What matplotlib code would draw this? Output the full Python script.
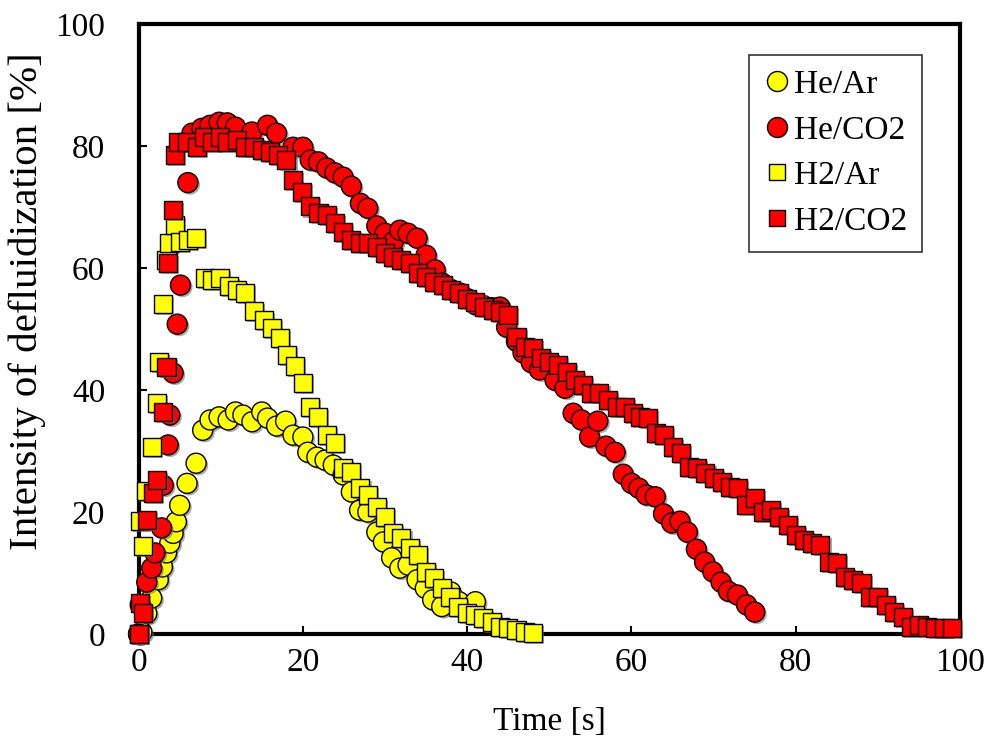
import matplotlib
matplotlib.use('Agg')
import matplotlib.pyplot as plt
import matplotlib.patheffects as pe

plt.rcParams['font.family'] = ['Liberation Serif', 'DejaVu Serif']

# He/Ar (yellow circles)
heAr_t = [0, 0.4, 1.0, 1.6, 2.4, 2.9, 3.4, 3.8, 4.2, 4.6, 5.0, 5.9, 7.0, 7.8, 8.7, 9.8,
          10.9, 11.8, 12.7, 13.8, 15.0, 15.7, 16.8, 17.9, 18.8, 20.0, 20.6, 21.7, 22.7,
          23.7, 24.9, 25.9, 26.9, 27.9, 29.0, 29.8, 30.8, 31.8, 32.8, 33.9, 34.9, 35.8,
          36.9, 38.0, 39.0, 40.0, 41.0]
heAr_v = [0, 0.3, 3.4, 5.9, 8.9, 11.0, 13.3, 14.9, 16.5, 18.4, 21.1, 24.7, 28.0, 33.4,
          35.1, 35.6, 35.1, 36.4, 35.9, 34.8, 36.4, 35.4, 34.1, 34.9, 32.6, 32.3, 29.8,
          29.0, 28.5, 27.7, 26.1, 23.3, 20.3, 20.0, 16.7, 15.1, 12.5, 10.8, 11.3, 8.9,
          7.5, 5.6, 4.5, 6.9, 5.3, 3.5, 5.3]

# He/CO2 (red circles)
heCO2_t = [0, 0.2, 1.0, 1.6, 2.0, 2.8, 3.0, 3.6, 3.8, 4.2, 4.7, 5.1, 6.0, 6.5, 7.7, 8.7,
           9.8, 10.8, 11.8, 13.8, 15.7, 16.8, 18.8, 20.0, 20.9, 21.9, 22.9, 23.9, 24.9,
           25.9, 27.0, 27.9, 29.0, 30.0, 31.0, 31.8, 32.8, 33.9, 35.0, 36.1, 37.0, 38.0,
           39.1, 40.0, 41.0, 41.9, 43.0, 44.0, 44.8, 46.0, 46.8, 47.8, 48.8, 50.7, 51.9,
           52.9, 53.9, 54.9, 55.9, 56.9, 58.0, 59.0, 60.0, 60.9, 61.8, 62.9, 63.9, 64.9,
           65.9, 66.8, 67.9, 68.9, 69.9, 70.9, 71.8, 72.9, 74.0, 75.0]
heCO2_v = [0, 4.8, 8.5, 10.8, 13.3, 17.4, 24.4, 31.0, 35.9, 42.8, 50.8, 57.2, 74.0, 82.1,
           82.9, 83.4, 83.9, 83.8, 83.1, 82.3, 83.4, 82.1, 79.8, 79.8, 77.7, 77.4, 76.4,
           75.6, 74.9, 73.4, 70.6, 69.8, 66.9, 65.7, 64.3, 66.2, 65.7, 64.9, 62.1, 59.7,
           57.5, 56.5, 55.9, 55.0, 54.0, 53.9, 53.5, 53.6, 50.3, 48.0, 46.1, 44.5, 43.3,
           41.6, 40.3, 36.2, 35.1, 32.3, 34.9, 30.8, 29.8, 26.2, 24.7, 23.9, 22.8, 22.5,
           19.7, 18.2, 18.5, 16.7, 13.9, 11.8, 10.2, 8.5, 7.0, 6.4, 4.8, 3.6]

# H2/Ar (yellow squares)
h2Ar_t = [0, 0.2, 0.5, 0.9, 1.6, 2.2, 2.5, 3.0, 3.4, 3.7, 4.4, 5.0, 6.0, 7.0, 8.1, 8.9,
          9.9, 11.0, 12.0, 13.0, 14.0, 15.3, 16.2, 17.2, 18.1, 19.0, 20.0, 20.9, 21.8,
          22.9, 23.9, 24.9, 25.9, 27.0, 27.9, 29.0, 30.0, 31.0, 32.0, 33.0, 34.0, 35.0,
          36.0, 36.9, 37.9, 38.9, 40.0, 40.9, 41.9, 43.0, 44.0, 45.0, 46.0, 47.0, 48.0]
h2Ar_v = [0, 18.5, 14.5, 23.5, 30.7, 37.9, 44.6, 54.1, 61.3, 64.1, 67.0, 64.3, 64.6,
          64.9, 58.4, 58.0, 58.4, 57.0, 56.4, 55.9, 53.0, 51.5, 50.2, 48.5, 45.7, 43.9,
          41.1, 37.2, 35.6, 32.6, 31.3, 27.2, 26.6, 23.9, 22.8, 20.8, 19.2, 16.5, 15.7,
          14.1, 13.0, 10.2, 9.2, 7.5, 6.1, 4.4, 3.4, 3.1, 2.6, 2.0, 1.1, 1.0, 0.7, 0.3, 0.2]

# H2/CO2 (red squares)
h2CO2_t = [0, 0.2, 0.5, 1.0, 1.8, 2.2, 3.0, 3.4, 3.6, 4.2, 4.4, 4.8, 5.9, 7.1, 8.0, 8.9,
           9.9, 10.8, 12.0, 13.0, 14.0, 15.0, 16.0, 17.0, 18.0, 18.8, 19.9, 20.9, 21.9,
           22.9, 23.9, 24.9, 25.9, 27.0, 27.9, 29.0, 30.0, 31.0, 32.0, 33.0, 34.0, 35.0,
           36.0, 37.0, 38.0, 39.0, 40.0, 41.0, 42.1, 43.1, 44.0, 45.0, 46.0, 47.0, 48.0,
           49.0, 50.0, 51.0, 52.1, 53.1, 54.1, 55.1, 56.1, 57.1, 58.2, 59.2, 60.2, 61.0,
           62.0, 63.0, 64.0, 65.0, 66.0, 67.0, 68.0, 69.0, 70.0, 71.0, 72.0, 73.0, 74.0,
           75.0, 76.0, 77.0, 78.0, 79.0, 80.0, 81.0, 82.0, 83.0, 84.0, 85.0, 86.0, 87.0,
           88.0, 89.0, 90.0, 91.0, 92.0, 93.0, 94.0, 95.0, 96.0, 97.0, 98.0, 99.0]
h2CO2_v = [0, 5.1, 3.4, 18.7, 23.1, 25.2, 36.4, 43.8, 60.8, 69.5, 78.5, 80.7, 80.7, 79.8,
           81.5, 80.7, 81.5, 80.7, 81.0, 79.8, 79.8, 79.3, 79.0, 78.5, 77.7, 74.4, 72.5,
           70.1, 69.1, 68.7, 67.4, 65.9, 64.6, 64.1, 64.1, 63.4, 62.5, 61.8, 61.3, 60.8,
           59.2, 58.5, 57.7, 57.2, 56.4, 55.9, 55.0, 54.4, 53.6, 53.1, 52.8, 52.3, 48.7,
           47.0, 46.9, 45.2, 44.6, 44.1, 43.0, 41.6, 40.8, 39.5, 39.5, 38.4, 37.2, 37.2,
           36.2, 35.6, 35.4, 33.0, 32.6, 30.7, 29.7, 27.4, 27.2, 26.4, 25.6, 24.9, 24.1,
           23.9, 21.1, 22.3, 20.0, 20.3, 19.2, 17.9, 16.2, 15.4, 14.9, 14.6, 11.8, 11.6,
           9.3, 8.9, 8.4, 6.1, 6.1, 4.8, 3.6, 2.8, 1.1, 1.5, 1.1, 1.0, 1.0, 1.0]

fig = plt.figure(figsize=(9.97, 7.49), dpi=100)
ax = fig.add_axes([0.139, 0.1535, 0.824, 0.8144])

# grey drop shadow behind every marker
shadow = [pe.SimplePatchShadow(offset=(1.5, -1.5), shadow_rgbFace='0.45', alpha=0.6), pe.Normal()]

series = [
    (heAr_t, heAr_v, 'o', 'yellow', 14.4, 'He/Ar'),
    (heCO2_t, heCO2_v, 'o', 'red', 14.4, 'He/CO2'),
    (h2Ar_t, h2Ar_v, 's', 'yellow', 13.0, 'H2/Ar'),
    (h2CO2_t, h2CO2_v, 's', 'red', 13.0, 'H2/CO2'),
]
handles = []
for t, v, m, c, ms, lab in series:
    ax.plot(t, v, ls='none', marker=m, ms=ms, mfc=c, mec='black', mew=1.0,
            clip_on=False, path_effects=shadow, zorder=3)
    h, = ax.plot([], [], ls='none', marker=m, ms=ms if m == 'o' else 11.5,
                 mfc=c, mec='black', mew=1.0, label=lab)
    handles.append(h)

ax.set_xlim(0, 100)
ax.set_ylim(0, 100)
ax.set_xticks([0, 20, 40, 60, 80, 100])
ax.set_yticks([0, 20, 40, 60, 80, 100])
ax.tick_params(direction='in', length=6, width=1.5, labelsize=24)
ax.tick_params(axis='x', pad=10)
ax.tick_params(axis='y', pad=24)
for s in ax.spines.values():
    s.set_linewidth(3)
ax.set_xlabel('Time [s]', fontsize=24, labelpad=20)
ax.set_ylabel('Intensity of defluidization [%]', fontsize=29.5)
ax.yaxis.set_label_coords(-0.113, 0.545)

leg = ax.legend(handles=handles, loc='upper right', bbox_to_anchor=(0.954, 0.95),
                fontsize=24, frameon=True, fancybox=False, edgecolor='black',
                handlelength=0.8, handletextpad=0.1, borderpad=0.45, labelspacing=0.45,
                borderaxespad=0)
leg.get_frame().set_linewidth(1.2)

fig.savefig('out.png', dpi=100)
